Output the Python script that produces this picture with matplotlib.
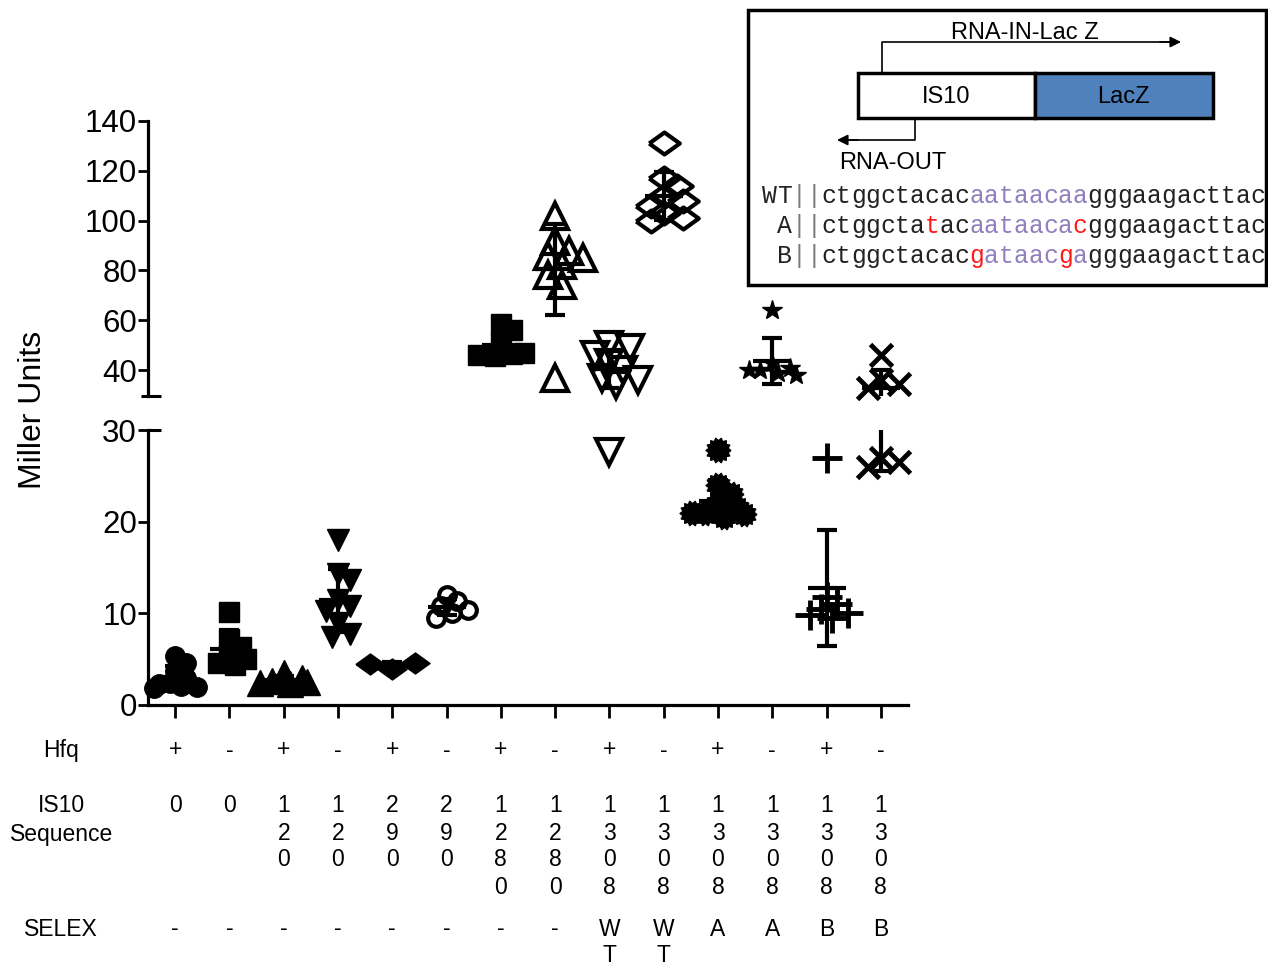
import matplotlib
matplotlib.use('Agg')
import matplotlib.pyplot as plt
import matplotlib.transforms as mtrans
from matplotlib.patches import Rectangle
import numpy as np

plt.rcParams['font.family'] = ['Liberation Sans', 'DejaVu Sans']

W, H = 1268, 964

# ---------------- data ----------------
hfq = ['+', '-'] * 7
is10 = ['0', '0', '120', '120', '290', '290', '1280', '1280',
        '1308', '1308', '1308', '1308', '1308', '1308']
selex = ['-'] * 8 + ['WT', 'WT', 'A', 'A', 'B', 'B']

g01 = [5.3, 4.6, 3.7, 3.0, 2.4, 2.0, 1.9, 2.1, 2.3]          # 0 +
g02 = [10.1, 7.2, 6.3, 5.5, 5.0, 4.6, 4.4]                     # 0 -
g03 = [3.5, 3.0, 2.6, 2.4, 2.3, 2.5]                           # 120 +
g04 = [18.0, 14.3, 13.6, 11.5, 10.8, 10.3, 9.0, 7.8, 7.4]      # 120 -
g05 = [3.9, 4.6, 4.5]                                          # 290 +
g06 = [12.0, 11.3, 10.8, 10.4, 10.0, 9.5]                      # 290 -
g07 = [58.5, 56.0, 51.0, 46.5, 45.5, 46.0, 47.0]               # 1280 +
g08 = [102, 92, 88, 86, 85, 82, 78, 74, 37]                    # 1280 -
g09 = [50, 49, 46, 43, 40, 37, 36, 34, 27.6]                   # 1308 WT +
g10 = [131, 117, 114, 110, 108, 106, 103, 101, 100]            # 1308 WT -
g11 = [27.8, 24.0, 23.0, 22.0, 21.5, 21.0, 21.0, 20.5, 20.8, 21.2]  # 1308 A +
g12 = [64, 43, 41, 40, 40, 39, 38]                             # 1308 A -
g13 = [27.0, 11.8, 11.0, 10.5, 10.0, 9.5, 9.8]                 # 1308 B +
g14 = [46, 36, 34.5, 33, 27, 26.5, 26]                         # 1308 B -
groups = [g01, g02, g03, g04, g05, g06, g07, g08, g09, g10, g11, g12, g13, g14]

lower_ticks = [0, 10, 20, 30]
upper_ticks = [40, 60, 80, 100, 120, 140]
BREAK = 30

# ---------------- marker styles ----------------
wide_diamond = [(-1, 0), (0, 0.72), (1, 0), (0, -0.72), (-1, 0)]
n_sp = 14
burst = []
for k in range(2 * n_sp + 1):
    r = 1.0 if k % 2 == 0 else 0.78
    a = np.pi * k / n_sp
    burst.append((r * np.cos(a), r * np.sin(a)))

styles = [
    dict(marker='o', ms=14, mfc='k', mec='k', mew=1, px=20),
    dict(marker='s', ms=15, mfc='k', mec='k', mew=1, px=21),
    dict(marker='^', ms=19, mfc='k', mec='k', mew=1, px=22),
    dict(marker='v', ms=16, mfc='k', mec='k', mew=1, px=23),
    dict(marker=wide_diamond, ms=21, mfc='k', mec='k', mew=1, px=28),
    dict(marker='o', ms=12, mfc='none', mec='k', mew=3, px=20),
    dict(marker='s', ms=15, mfc='k', mec='k', mew=1, px=21),
    dict(marker='^', ms=19, mfc='none', mec='k', mew=3, px=26),
    dict(marker='v', ms=19, mfc='none', mec='k', mew=3, px=26),
    dict(marker=wide_diamond, ms=22, mfc='none', mec='k', mew=3, px=24),
    dict(marker=burst, ms=18, mfc='k', mec='k', mew=1, px=24),
    dict(marker='*', ms=15, mfc='k', mec='k', mew=1, px=22),
    dict(marker='+', ms=21, mfc='k', mec='k', mew=3.5, px=20),
    dict(marker='x', ms=16, mfc='k', mec='k', mew=3.5, px=23),
]

# ---------------- figure & axes ----------------
fig = plt.figure(figsize=(W / 100, H / 100), dpi=100)


def fbox(x0, y0, x1, y1):
    return [x0 / W, 1 - y1 / H, (x1 - x0) / W, (y1 - y0) / H]


ax_up = fig.add_axes(fbox(148, 121, 908, 396))
ax_lo = fig.add_axes(fbox(148, 430, 908, 705))
ax_up.set_ylim(29.6, 140)
ax_lo.set_ylim(0, 30)
for a in (ax_up, ax_lo):
    a.set_xlim(0.5, 14.5)
    a.set_facecolor('none')
    for s in ('top', 'right'):
        a.spines[s].set_visible(False)
    a.spines['left'].set_linewidth(2.3)
    a.spines['bottom'].set_linewidth(2.3)
    a.tick_params(axis='y', direction='out', length=7.5, width=2.0,
                  labelsize=22.5, pad=0.5, colors='k')
    a.tick_params(axis='x', direction='out', length=9, width=2.0)
ax_up.spines['bottom'].set_visible(False)
ax_up.set_xticks([])
ax_up.set_yticks(upper_ticks)
ax_lo.set_yticks(lower_ticks)
xpos = np.arange(1, 15)
ax_lo.set_xticks(xpos)
ax_lo.set_xticklabels([])

fig.canvas.draw()


def axis_for(v):
    return ax_up if v >= BREAK else ax_lo


def to_px(v):
    return axis_for(v).transData.transform((1, v))[1]


px_per_x = ax_lo.transData.transform((2, 0))[0] - ax_lo.transData.transform((1, 0))[0]

for i, (vals, st) in enumerate(zip(groups, styles)):
    x = xpos[i]
    d = st['px']
    placed = []
    xs = []
    cands = [0.0]
    for k in range(1, 5):
        cands += [k * d * 0.27, -k * d * 0.27]
    for v in vals:
        yp = to_px(v)
        chosen = None
        best, bestd = 0.0, -1
        for c in cands:
            md = min([np.hypot(c - px, yp - py) for px, py in placed] + [1e9])
            if md >= 0.6 * d:
                chosen = c
                break
            if md > bestd:
                best, bestd = c, md
        if chosen is None:
            chosen = best
        placed.append((chosen, yp))
        xs.append(x + chosen / px_per_x)
    mean = np.mean(vals)
    sd = np.std(vals, ddof=1)
    for a in (ax_up, ax_lo):
        sel = [(xx, v) for xx, v in zip(xs, vals) if axis_for(v) is a]
        if sel:
            a.plot([s[0] for s in sel], [s[1] for s in sel], linestyle='none',
                   marker=st['marker'], ms=st['ms'], mfc=st['mfc'], mec=st['mec'],
                   mew=st['mew'], zorder=3, clip_on=False)
        a.errorbar([x], [mean], yerr=[sd], fmt='none', ecolor='k',
                   elinewidth=3, capsize=7.5, capthick=3, zorder=4)
        a.hlines(mean, x - 0.35, x + 0.35, colors='k', lw=3, zorder=4)

fig.text(33 / W, 1 - 410 / H, 'Miller Units', rotation=90, ha='center',
         va='center', fontsize=23)

# ---------------- overlay (pixel coordinates) ----------------
ov = fig.add_axes([0, 0, 1, 1])
ov.set_xlim(0, W)
ov.set_ylim(H, 0)
ov.axis('off')

# axis break caps
ov.plot([141, 161], [396, 396], color='k', lw=2.2, solid_capstyle='butt')
ov.plot([148, 161], [430, 430], color='k', lw=2.2, solid_capstyle='butt')

# table below axis
tr = mtrans.blended_transform_factory(ax_lo.transData, ov.transData)
fs_tab = 16.5
step = 27
ov.text(61, 750, 'Hfq', ha='center', va='center', fontsize=fs_tab)
ov.text(61, 806, 'IS10', ha='center', va='center', fontsize=fs_tab)
ov.text(62, 834, 'Sequence', ha='center', va='center', fontsize=fs_tab)
ov.text(61, 929, 'SELEX', ha='center', va='center', fontsize=fs_tab)
for i in range(14):
    x = xpos[i]
    ov.text(x, 750, hfq[i], transform=tr, ha='center', va='center', fontsize=fs_tab)
    for j, ch in enumerate(is10[i]):
        ov.text(x, 806 + j * step, ch, transform=tr, ha='center', va='center', fontsize=fs_tab)
    for j, ch in enumerate(selex[i]):
        ov.text(x, 929 + j * 26, ch, transform=tr, ha='center', va='center', fontsize=fs_tab)

# inset schematic
ov.add_patch(Rectangle((748, 10), 518, 275, fill=True, fc='white', ec='k', lw=2.5, zorder=1))
ov.add_patch(Rectangle((858, 73), 177, 45, fc='white', ec='k', lw=2.5, zorder=3))
ov.add_patch(Rectangle((1035, 73), 178, 45, fc='#4f81bd', ec='k', lw=2.5, zorder=3))
ov.plot([882, 882, 1170], [73, 42, 42], color='k', lw=1.2, zorder=2)
ov.annotate('', xy=(1181, 42), xytext=(1160, 42),
            arrowprops=dict(arrowstyle='-|>', color='k', lw=1.2, mutation_scale=16,
                            shrinkA=0, shrinkB=0), zorder=2)
ov.plot([915, 915, 850], [118, 140, 140], color='k', lw=1.2, zorder=2)
ov.annotate('', xy=(837, 140), xytext=(858, 140),
            arrowprops=dict(arrowstyle='-|>', color='k', lw=1.2, mutation_scale=16,
                            shrinkA=0, shrinkB=0), zorder=2)
ov.text(1025, 33, 'RNA-IN-Lac Z', ha='center', va='center', fontsize=17, zorder=4)
ov.text(946, 97, 'IS10', ha='center', va='center', fontsize=17, zorder=4)
ov.text(1123, 97, 'LacZ', ha='center', va='center', fontsize=17, zorder=4)
ov.text(893, 163, 'RNA-OUT', ha='center', va='center', fontsize=17, zorder=4)

col = {'k': '#222222', 'p': '#9080bd', 'r': '#ff1a1a', 'g': '#7a7a7a'}
seq_rows = [
    ('WT', [('ctggctacac', 'k'), ('aataacaa', 'p'), ('gggaagacttac', 'k')]),
    (' A', [('ctggcta', 'k'), ('t', 'r'), ('ac', 'k'), ('aataaca', 'p'), ('c', 'r'),
            ('gggaagacttac', 'k')]),
    (' B', [('ctggctacac', 'k'), ('g', 'r'), ('ataac', 'p'), ('g', 'r'), ('a', 'p'),
            ('gggaagacttac', 'k')]),
]
cw = 14.8
for r, (lab, segs) in enumerate(seq_rows):
    y = 196 + r * 30
    chars = [(c, 'k') for c in lab] + [('|', 'g'), ('|', 'g')]
    for s, c in segs:
        chars += [(ch, c) for ch in s]
    for i, (ch, c) in enumerate(chars):
        if ch == ' ':
            continue
        ov.text(762 + (i + 0.5) * cw, y, ch, ha='center', va='center',
                family=['Liberation Mono', 'DejaVu Sans Mono'], fontsize=17.8,
                color=col[c], zorder=4)

fig.savefig('out.png', dpi=100)
